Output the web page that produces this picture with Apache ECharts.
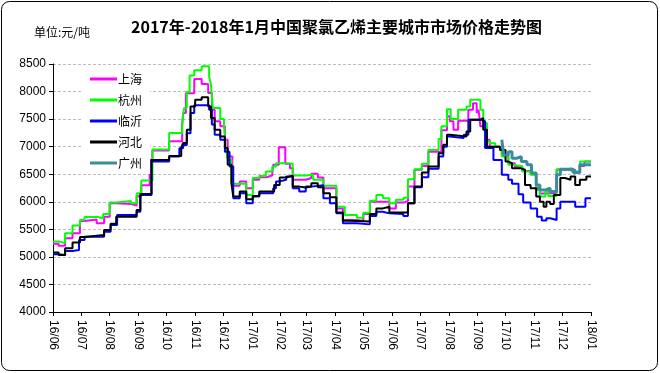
<!DOCTYPE html>
<html>
<head>
<meta charset="utf-8">
<script src="https://cdn.jsdelivr.net/npm/echarts@6/dist/echarts.min.js"></script>
<style>
html,body{margin:0;padding:0;background:#fff;}
#chart{width:660px;height:373px;}
</style>
</head>
<body>
<div id="chart"></div>
<script>
var titleText = '2017年-2018年1月中国聚氯乙烯主要城市市场价格走势图';
var unitText = '单位:元/吨';
var seriesNames = ['上海', '杭州', '临沂', '河北', '广州'];
var yTicks = [4000, 4500, 5000, 5500, 6000, 6500, 7000, 7500, 8000, 8500];
var xStart = '2016-06-01';
var xEnd = '2018-01-01';

// 上海
var shanghai = [
['2016-06-01',5240],['2016-06-07',5200],['2016-06-14',5340],['2016-06-22',5430],['2016-06-30',5650],
['2016-07-05',5680],['2016-07-18',5610],['2016-07-26',5730],['2016-08-01',5975],['2016-08-08',5960],
['2016-08-24',5930],['2016-08-30',6100],['2016-09-04',6300],['2016-09-13',6760],['2016-09-16',6930],
['2016-10-04',7100],['2016-10-18',7370],['2016-10-19',7610],['2016-10-22',7970],['2016-10-31',8230],
['2016-11-08',8135],['2016-11-15',7975],['2016-11-19',7670],['2016-11-22',7460],['2016-11-28',7370],
['2016-12-03',7125],['2016-12-06',6820],['2016-12-11',6290],['2016-12-19',6370],['2016-12-26',6245],
['2017-01-02',6400],['2017-01-09',6445],['2017-01-17',6480],['2017-01-23',6520],['2017-01-24',6670],
['2017-01-30',6990],['2017-02-06',6690],['2017-02-11',6610],['2017-02-14',6400],['2017-02-28',6430],
['2017-03-06',6510],['2017-03-13',6440],['2017-03-19',6245],['2017-04-02',5880],['2017-04-09',5670],
['2017-04-24',5650],['2017-05-01',5780],['2017-05-08',6000],['2017-05-29',5880],['2017-06-05',5985],
['2017-06-13',6015],['2017-06-18',6275],['2017-06-25',6580],['2017-07-03',6650],['2017-07-10',6910],
['2017-07-24',7300],['2017-07-30',7550],['2017-08-02',7460],['2017-08-06',7305],['2017-08-11',7470],
['2017-08-22',7670],['2017-08-27',7790],['2017-08-31',7610],['2017-09-02',7670],['2017-09-04',7370],
['2017-09-11',7125],['2017-09-14',7000],['2017-09-27',6850],['2017-10-04',6700],['2017-10-11',6640],
['2017-10-19',6560],['2017-10-28',6500],['2017-11-03',6250],['2017-11-07',6150],['2017-11-13',6160],
['2017-11-19',6155],['2017-11-25',6580],['2017-12-15',6540],['2017-12-20',6650],['2017-12-25',6730],
['2018-01-01',6730]
];

// 杭州
var hangzhou = [
['2016-06-01',5280],['2016-06-07',5250],['2016-06-14',5430],['2016-06-22',5570],['2016-06-30',5670],
['2016-07-05',5725],['2016-07-19',5700],['2016-07-25',5780],['2016-08-01',5985],['2016-08-08',6015],
['2016-08-24',5975],['2016-08-30',6155],['2016-09-04',6385],['2016-09-16',6950],['2016-10-04',7250],
['2016-10-18',7430],['2016-10-20',7700],['2016-10-23',7990],['2016-10-26',8290],['2016-10-31',8385],
['2016-11-08',8460],['2016-11-16',8276],['2016-11-18',8124],['2016-11-20',7700],['2016-11-28',7500],
['2016-12-02',7370],['2016-12-04',7000],['2016-12-06',6760],['2016-12-10',6370],['2016-12-12',6325],
['2016-12-26',6125],['2017-01-02',6430],['2017-01-09',6470],['2017-01-16',6550],['2017-01-23',6640],
['2017-01-27',6700],['2017-02-07',6690],['2017-02-14',6475],['2017-02-28',6490],['2017-03-08',6400],
['2017-03-19',6290],['2017-04-02',5910],['2017-04-11',5760],['2017-04-24',5710],['2017-05-01',5800],
['2017-05-08',6020],['2017-05-15',6125],['2017-05-22',6065],['2017-05-29',5975],['2017-06-05',6035],
['2017-06-13',6075],['2017-06-18',6410],['2017-06-25',6590],['2017-07-03',6690],['2017-07-10',6940],
['2017-07-21',7140],['2017-07-24',7370],['2017-07-30',7680],['2017-08-03',7500],['2017-08-11',7670],
['2017-08-20',7730],['2017-08-24',7850],['2017-09-04',7670],['2017-09-07',7430],['2017-09-11',7100],
['2017-09-14',7060],['2017-09-20',7000],['2017-09-27',6820],['2017-10-04',6670],['2017-10-11',6640],
['2017-10-19',6550],['2017-10-28',6490],['2017-11-03',6215],['2017-11-07',6095],['2017-11-13',6185],
['2017-11-16',6105],['2017-11-25',6590],['2017-12-08',6610],['2017-12-11',6550],['2017-12-20',6730],
['2018-01-01',6730]
];

// 临沂
var linyi = [
['2016-06-01',5050],['2016-06-07',5035],['2016-06-14',5105],['2016-06-22',5125],['2016-06-29',5305],
['2016-07-05',5365],['2016-07-26',5455],['2016-08-02',5580],['2016-08-09',5760],['2016-08-30',5820],
['2016-09-03',6125],['2016-09-15',6730],['2016-10-04',6820],['2016-10-15',6970],['2016-10-19',7030],
['2016-10-23',7245],['2016-10-27',7610],['2016-10-31',7750],['2016-11-16',7670],['2016-11-19',7400],
['2016-11-22',7215],['2016-11-28',7125],['2016-12-03',6910],['2016-12-08',6640],['2016-12-12',6065],
['2016-12-19',6155],['2016-12-26',5975],['2017-01-02',6095],['2017-01-09',6155],['2017-01-24',6245],
['2017-01-27',6370],['2017-01-31',6400],['2017-02-07',6460],['2017-02-14',6245],['2017-02-21',6185],
['2017-02-28',6275],['2017-03-06',6300],['2017-03-19',6065],['2017-03-26',5975],['2017-04-02',5790],
['2017-04-09',5610],['2017-04-24',5590],['2017-05-08',5740],['2017-05-15',5820],['2017-05-22',5790],
['2017-05-29',5780],['2017-06-13',5740],['2017-06-18',5975],['2017-06-25',6265],['2017-07-03',6445],
['2017-07-10',6600],['2017-07-21',6820],['2017-07-26',7000],['2017-07-30',7185],['2017-08-02',7155],
['2017-08-17',7215],['2017-08-22',7490],['2017-09-04',7460],['2017-09-09',6975],['2017-09-18',6760],
['2017-09-27',6490],['2017-10-04',6400],['2017-10-08',6325],['2017-10-15',6135],['2017-10-20',5985],
['2017-10-28',5880],['2017-11-04',5730],['2017-11-09',5660],['2017-11-14',5700],['2017-11-18',5670],
['2017-11-25',5880],['2017-11-29',6000],['2017-12-15',5910],['2017-12-26',6065],['2018-01-01',6065]
];

// 河北
var hebei = [
['2016-06-01',5080],['2016-06-07',5035],['2016-06-14',5155],['2016-06-22',5260],['2016-06-30',5360],
['2016-07-05',5395],['2016-07-26',5490],['2016-08-02',5600],['2016-08-08',5730],['2016-08-30',5850],
['2016-09-03',6140],['2016-09-15',6760],['2016-10-04',6830],['2016-10-17',6980],['2016-10-19',7065],
['2016-10-23',7305],['2016-10-27',7730],['2016-11-01',7850],['2016-11-08',7895],['2016-11-15',7730],
['2016-11-18',7520],['2016-11-22',7305],['2016-11-28',7185],['2016-12-03',6975],['2016-12-06',6670],
['2016-12-10',6335],['2016-12-12',6095],['2016-12-19',6185],['2016-12-26',6045],['2017-01-02',6105],
['2017-01-09',6185],['2017-01-25',6305],['2017-01-31',6440],['2017-02-07',6475],['2017-02-14',6275],
['2017-02-21',6260],['2017-02-28',6275],['2017-03-06',6335],['2017-03-13',6265],['2017-03-19',6155],
['2017-03-26',6080],['2017-04-02',5805],['2017-04-09',5655],['2017-04-16',5640],['2017-05-08',5780],
['2017-05-15',5880],['2017-05-22',5910],['2017-05-29',5805],['2017-06-18',5975],['2017-06-25',6275],
['2017-07-03',6530],['2017-07-10',6640],['2017-07-21',6880],['2017-07-26',7035],['2017-07-30',7215],
['2017-08-02',7185],['2017-08-20',7275],['2017-08-24',7490],['2017-09-04',7520],['2017-09-07',7305],
['2017-09-11',7000],['2017-09-25',6940],['2017-10-01',6730],['2017-10-04',6700],['2017-10-08',6610],
['2017-10-17',6580],['2017-10-22',6305],['2017-10-28',6245],['2017-11-03',6095],['2017-11-07',6000],
['2017-11-11',5910],['2017-11-14',6000],['2017-11-18',5960],['2017-11-22',6125],['2017-11-29',6430],
['2017-12-04',6400],['2017-12-10',6460],['2017-12-15',6305],['2017-12-20',6400],['2017-12-27',6460],
['2018-01-01',6460]
];

// 广州
var guangzhou = [
['2017-09-27',7125],['2017-09-29',6850],['2017-10-04',6910],['2017-10-08',6790],['2017-10-13',6820],
['2017-10-18',6730],['2017-10-24',6670],['2017-10-29',6520],['2017-11-03',6305],['2017-11-07',6215],
['2017-11-13',6245],['2017-11-18',6185],['2017-11-25',6490],['2017-11-29',6590],['2017-12-13',6530],
['2017-12-20',6670],['2018-01-01',6670]
];

var seriesData = [shanghai, hangzhou, linyi, hebei, guangzhou];
var colors = ['#FF00FF', '#00FF00', '#0000FF', '#000000', '#3B8C9E'];
var widths = [2, 2, 2, 2, 3];

var chart = echarts.init(document.getElementById('chart'), null, {renderer: 'canvas'});
var fontLatin = '"Liberation Sans", Arial, sans-serif';
var fontCJK = '"Noto Sans CJK SC", sans-serif';

chart.setOption({
  animation: false,
  backgroundColor: '#fff',
  color: colors,
  title: [
    {text: titleText, left: 131, top: 19, padding: 0,
     textStyle: {fontSize: 16, fontWeight: 'bold', color: '#000', fontFamily: fontCJK}},
    {text: unitText, left: 34, top: 26, padding: 0,
     textStyle: {fontSize: 12, fontWeight: 'normal', color: '#000', fontFamily: fontCJK}}
  ],
  graphic: [{
    type: 'rect', z: 100, silent: true,
    shape: {x: 1.5, y: 1.5, width: 656, height: 369, r: 8},
    style: {fill: 'transparent', stroke: '#000', lineWidth: 1}
  }],
  legend: {
    orient: 'vertical', left: 82, top: 68,
    icon: 'rect', itemWidth: 27, itemHeight: 3, itemGap: 7,
    backgroundColor: '#fff', padding: [4, 8, 4, 8],
    textStyle: {fontSize: 12, color: '#000', fontFamily: fontCJK, lineHeight: 14, padding: [0,0,0,-4]},
    data: seriesNames
  },
  grid: {left: 53, right: 69, top: 64, bottom: 61, containLabel: false},
  xAxis: {
    type: 'time', min: xStart, max: xEnd,
    minInterval: 28 * 86400000, maxInterval: 31 * 86400000,
    axisLine: {show: true, lineStyle: {color: '#000', width: 1}},
    axisTick: {show: true, length: 4, lineStyle: {color: '#000'}},
    splitLine: {show: false},
    axisLabel: {
      rotate: -90, fontSize: 12, color: '#000', fontFamily: fontLatin, margin: 8,
      showMinLabel: true, showMaxLabel: true, hideOverlap: false,
      formatter: function (v) {
        var d = new Date(v);
        var yy = String(d.getFullYear()).slice(2);
        var mm = d.getMonth() + 1;
        return yy + '/' + (mm < 10 ? '0' : '') + mm;
      }
    }
  },
  yAxis: {
    type: 'value', min: yTicks[0], max: yTicks[yTicks.length - 1], interval: 500,
    axisLine: {show: true, lineStyle: {color: '#000', width: 1}},
    axisTick: {show: true, length: 4, lineStyle: {color: '#000'}},
    axisLabel: {fontSize: 12, color: '#000', fontFamily: fontLatin, margin: 7,
      formatter: function (v) { return String(v); }},
    splitLine: {show: true, lineStyle: {color: '#BDBDBD', type: [3, 2], width: 1}}
  },
  series: seriesNames.map(function (name, i) {
    return {
      name: name, type: 'line', step: 'end', data: seriesData[i],
      showSymbol: false, symbol: 'none',
      lineStyle: {color: colors[i], width: widths[i]},
      itemStyle: {color: colors[i]},
      emphasis: {disabled: true}
    };
  })
});
</script>
</body>
</html>
